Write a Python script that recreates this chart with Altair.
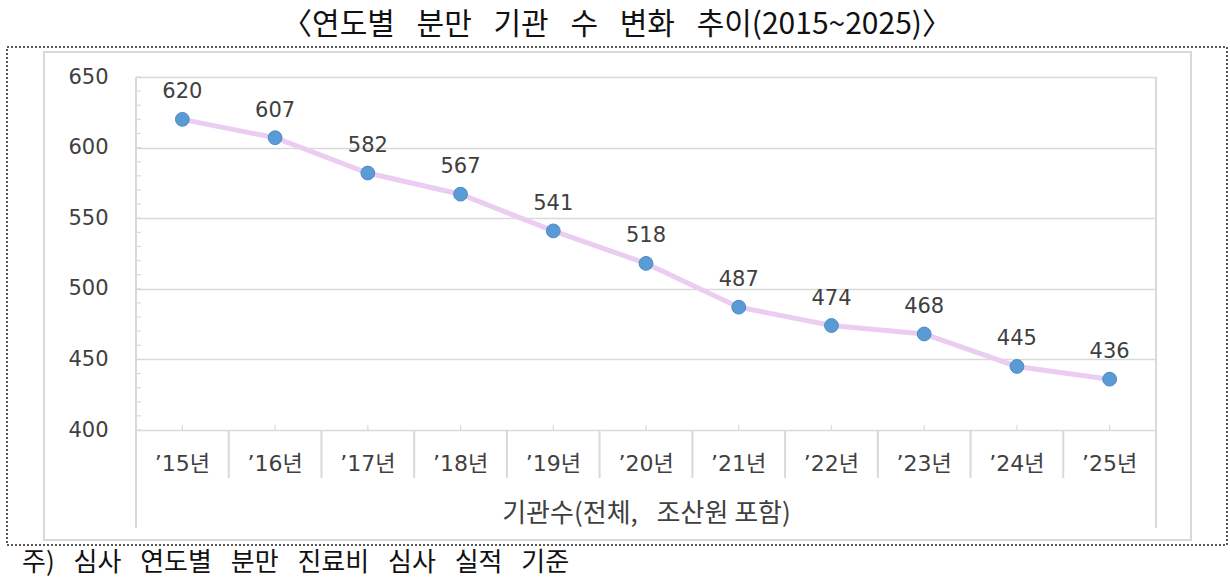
import altair as alt
import pandas as pd

years = ["’15년", "’16년", "’17년", "’18년", "’19년", "’20년", "’21년", "’22년", "’23년", "’24년", "’25년"]
counts = [620, 607, 582, 567, 541, 518, 487, 474, 468, 445, 436]
y_ticks = [400, 450, 500, 550, 600, 650]
minor_ticks = [v for v in range(400, 651, 10)]

title_text = "〈연도별\u2002 분만\u2002 기관\u2002 수\u2002 변화\u2002 추이(2015~2025)〉"
x_title = "기관수(전체,\u2002 조산원 포함)"
note_text = "주)\u2002 심사\u2002 연도별\u2002 분만\u2002 진료비\u2002 심사\u2002 실적\u2002 기준"

df = pd.DataFrame({"year": years, "count": counts})
minor_df = pd.DataFrame({"v": minor_ticks})

W, H = 1020, 353
KFONT = "Noto Sans CJK KR"
NFONT = "DejaVu Sans, Noto Sans CJK KR"
GRAY = "#d9d9d9"
TXT = "#404040"

xs = alt.Scale(domain=years, paddingInner=0, paddingOuter=0)
ys = alt.Scale(domain=[400, 650], nice=False, zero=False)

base = alt.Chart(df)

line = base.mark_line(color="#EBCDF1", strokeWidth=5).encode(
    x=alt.X("year:N", scale=xs, sort=years,
            axis=alt.Axis(labelAngle=0, labelFontSize=22, labelColor=TXT, labelFont=NFONT,
                          labelPadding=23, ticks=False, domain=False, grid=False,
                          bandPosition=0.5, labelAlign="center",
                          title=x_title, titleFontSize=26, titleFontWeight="normal",
                          titleColor=TXT, titleFont=KFONT, titlePadding=26)),
    y=alt.Y("count:Q", scale=ys,
            axis=alt.Axis(values=y_ticks, labelFontSize=21, labelColor=TXT, labelFont=NFONT,
                          labelPadding=28, ticks=False, domain=False, grid=True,
                          gridColor=GRAY, gridWidth=1.5, title=None)),
)

points = base.mark_circle(size=190, color="#5B9BD5", opacity=1, stroke="#4A8AC8", strokeWidth=1).encode(
    x=alt.X("year:N", scale=xs, sort=years),
    y=alt.Y("count:Q", scale=ys),
)

labels = base.mark_text(dy=-27, fontSize=21, color=TXT, font=NFONT).encode(
    x=alt.X("year:N", scale=xs, sort=years),
    y=alt.Y("count:Q", scale=ys),
    text=alt.Text("count:Q"),
)

minor = alt.Chart(minor_df).mark_rule(color=GRAY, strokeWidth=1.2).encode(
    y=alt.Y("v:Q", scale=ys),
    x=alt.value(0), x2=alt.value(5),
)

xticks = base.mark_rule(color=GRAY, strokeWidth=1.2).encode(
    x=alt.X("year:N", scale=xs, sort=years),
    y=alt.value(H - 5), y2=alt.value(H),
)

seps = base.mark_rule(color=GRAY, strokeWidth=2).encode(
    x=alt.X("year:N", scale=xs, sort=years, bandPosition=0),
    y=alt.value(H), y2=alt.value(H + 48),
)

one = alt.Data(values=[{}])

left_ext = alt.Chart(one).mark_rule(color=GRAY, strokeWidth=2).encode(
    x=alt.value(0), y=alt.value(0), y2=alt.value(451))
right_ext = alt.Chart(one).mark_rule(color=GRAY, strokeWidth=2).encode(
    x=alt.value(W), y=alt.value(0), y2=alt.value(451))

inner_frame = alt.Chart(one).mark_rect(fill=None, stroke=GRAY, strokeWidth=2).encode(
    x=alt.value(44 - 136), x2=alt.value(1191 - 136),
    y=alt.value(52 - 77), y2=alt.value(540 - 77))

outer_frame = alt.Chart(one).mark_rect(fill=None, stroke="#222222", strokeWidth=1.5,
                                        strokeDash=[2, 2]).encode(
    x=alt.value(7 - 136), x2=alt.value(1227 - 136),
    y=alt.value(47 - 77), y2=alt.value(545 - 77))

title = alt.Chart(one).mark_text(text=title_text, fontSize=30, color="#111111", font=KFONT,
                                 align="center", baseline="middle").encode(
    x=alt.value(617 - 136), y=alt.value(25 - 77))

note = alt.Chart(one).mark_text(text=note_text, fontSize=26, color="#111111", font=KFONT,
                                align="left", baseline="middle").encode(
    x=alt.value(22 - 136), y=alt.value(563 - 77))

chart = alt.layer(
    line, points, labels, seps, minor, xticks, left_ext, right_ext,
    inner_frame, outer_frame, title, note,
).properties(
    width=W, height=H,
    autosize=alt.AutoSizeParams(type="none"),
    padding={"left": 136, "top": 77, "right": 1230 - 136 - W, "bottom": 580 - 77 - H},
).configure_view(stroke=GRAY, strokeWidth=1.5).configure(background="white")

chart.save("out.html", embed_options={"renderer": "svg", "actions": False})
